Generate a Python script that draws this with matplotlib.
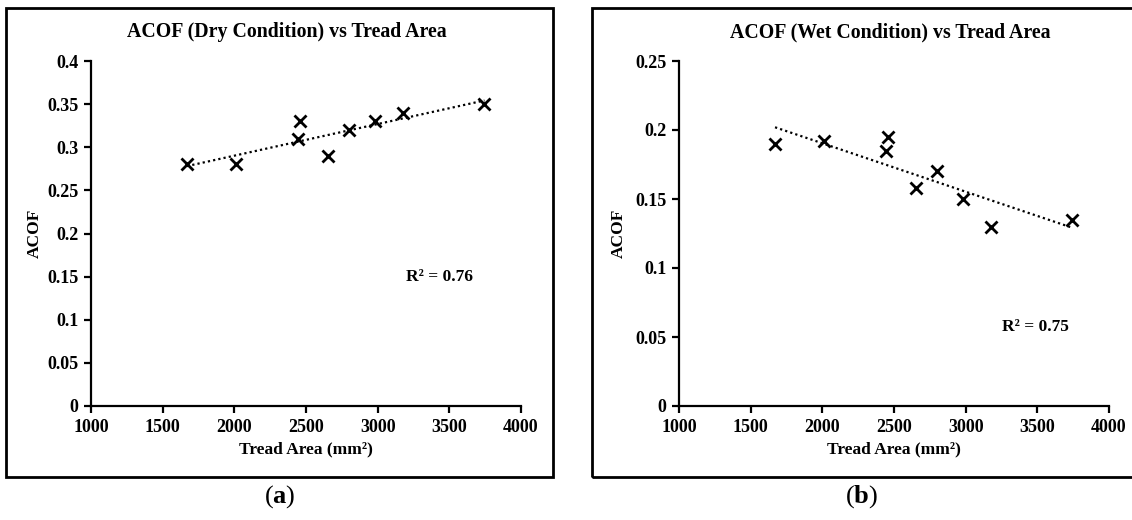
"""ACOF vs tread area: dry (a) and wet (b) conditions with linear trend lines."""

import matplotlib
matplotlib.use("Agg")
import matplotlib.pyplot as plt
import numpy as np
from matplotlib.patches import Rectangle


tread_area = [1670, 2010, 2445, 2460, 2650, 2800, 2980, 3180, 3745]
acof_dry   = [0.280, 0.280, 0.310, 0.330, 0.290, 0.320, 0.330, 0.340, 0.350]
acof_wet   = [0.190, 0.192, 0.185, 0.195, 0.158, 0.170, 0.150, 0.130, 0.135]

x_ticks     = [1000, 1500, 2000, 2500, 3000, 3500, 4000]
y_ticks_dry = [0, 0.05, 0.1, 0.15, 0.2, 0.25, 0.3, 0.35, 0.4]
y_ticks_wet = [0, 0.05, 0.1, 0.15, 0.2, 0.25]

r2_dry = "R² = 0.76"
r2_wet = "R² = 0.75"

plt.rcParams["font.family"] = ["Liberation Serif", "DejaVu Serif"]
plt.rcParams["font.weight"] = "bold"
plt.rcParams["mathtext.fontset"] = "custom"
plt.rcParams["mathtext.rm"] = "Liberation Serif"
plt.rcParams["mathtext.bf"] = "Liberation Serif:bold"

W, H = 1132, 520


def px_axes(left, top, right, bottom):
    return [left / W, 1 - bottom / H, (right - left) / W, (bottom - top) / H]


def draw_panel(ax, x, y, yticks, r2_text, r2_pos, ylabel_x):
    ax.scatter(x, y, marker="x", s=75, linewidths=2.0, color="black", zorder=3)

    # lineární trend (least squares)
    k, b = np.polyfit(x, y, 1)
    xs = np.array([min(x), max(x)])
    ax.plot(xs, k * xs + b, color="black", linestyle=(0, (1, 1.4)), linewidth=1.6)

    ax.set_xlim(x_ticks[0], x_ticks[-1])
    ax.set_ylim(yticks[0], yticks[-1])
    ax.set_xticks(x_ticks)
    ax.set_yticks(yticks)
    ax.set_yticklabels([f"{v:g}" for v in yticks])
    for side in ("top", "right"):
        ax.spines[side].set_visible(False)
    for side in ("left", "bottom"):
        ax.spines[side].set_linewidth(1.6)
    ax.tick_params(direction="out", length=5, width=1.6, labelsize=13, pad=4)

    ax.set_xlabel("Tread Area (mm²)", fontsize=12.5, fontweight="bold")
    ax.set_ylabel("ACOF", fontsize=12.5, fontweight="bold")
    ax.xaxis.set_label_coords(0.5, -0.104)
    ax.yaxis.set_label_coords(ylabel_x, 0.5)
    ax.text(r2_pos[0], r2_pos[1], r2_text, fontsize=12.5, fontweight="bold",
            ha="center", va="center")


fig = plt.figure(figsize=(W / 100, H / 100), dpi=100)

# ramki kolem obou grafů
fig.patches.append(Rectangle((6 / W, 1 - 477 / H), 547 / W, 469 / H,
                             transform=fig.transFigure, fill=False,
                             edgecolor="black", linewidth=2.0))
fig.patches.append(Rectangle((592 / W, 1 - 477 / H), 560 / W, 469 / H,
                             transform=fig.transFigure, fill=False,
                             edgecolor="black", linewidth=2.0))

ax1 = fig.add_axes(px_axes(91, 61, 521, 406))
draw_panel(ax1, tread_area, acof_dry, y_ticks_dry, r2_dry, (3430, 0.15), -0.112)

ax2 = fig.add_axes(px_axes(679, 61, 1109, 406))
draw_panel(ax2, tread_area, acof_wet, y_ticks_wet, r2_wet, (3490, 0.057), -0.121)

fig.text(287 / W, 1 - 32 / H, "ACOF (Dry Condition) vs Tread Area",
         fontsize=14.3, fontweight="bold", ha="center", va="center")
fig.text(890 / W, 1 - 32 / H, "ACOF (Wet Condition) vs Tread Area",
         fontsize=14.3, fontweight="bold", ha="center", va="center")

fig.text(280 / W, 1 - 497 / H, r"($\mathbf{a}$)", fontsize=19,
         fontweight="normal", ha="center", va="center")
fig.text(862 / W, 1 - 497 / H, r"($\mathbf{b}$)", fontsize=19,
         fontweight="normal", ha="center", va="center")

fig.savefig("out.png", dpi=100)
